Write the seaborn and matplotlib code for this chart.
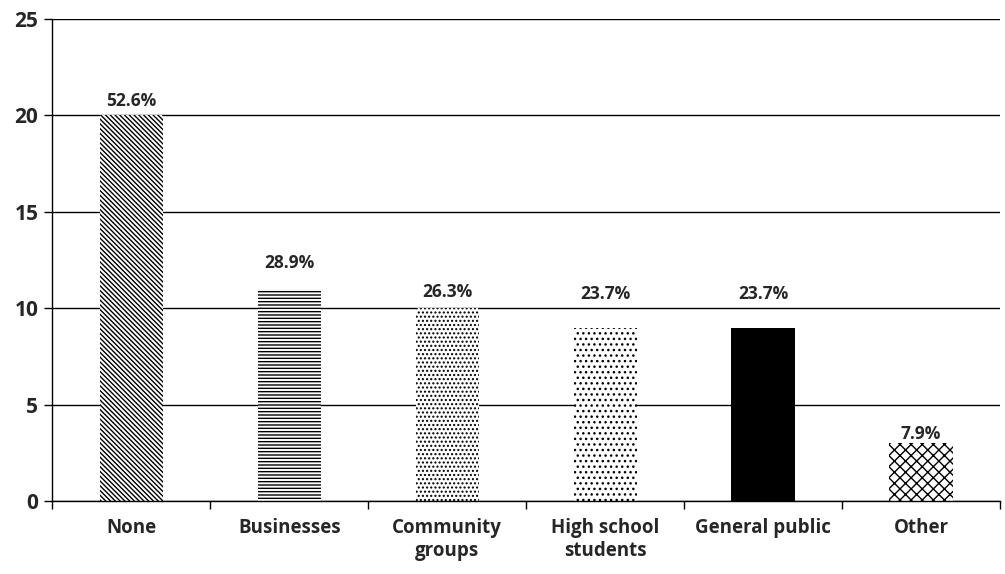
import numpy as np
import seaborn as sns
import matplotlib
matplotlib.use("Agg")
import matplotlib.pyplot as plt
from matplotlib.ticker import FixedLocator

categories = ["None", "Businesses", "Community\ngroups", "High school\nstudents", "General public", "Other"]
counts = [20, 11, 10, 9, 9, 3]
respondents = 38  # percent labels are share of respondents (multiple answers)
hatches = ["\\" * 7, "-" * 5, "." * 4, "." * 3, "", "x" * 3]
fills = ["white", "white", "white", "white", "black", "white"]
# label lift above each bar in points (the original placed them by hand)
label_lift = [10, 19, 12, 24, 24, 7]

sns.set_style("white")
plt.rcParams["font.family"] = ["Open Sans", "DejaVu Sans"]
plt.rcParams["hatch.linewidth"] = 1.0

fig = plt.figure(figsize=(10.05, 5.74), dpi=100)
ax = fig.add_axes([0.052, 0.127, 0.943, 0.840])

sns.barplot(x=categories, y=counts, color="white", width=0.4, ax=ax,
            edgecolor="black", linewidth=0, saturation=1)

for bar, h, fc in zip(ax.patches, hatches, fills):
    bar.set_facecolor(fc)
    bar.set_hatch(h)
    bar.set_edgecolor("black")
    bar.set_linewidth(0)

for i, (c, lift) in enumerate(zip(counts, label_lift)):
    ax.annotate(f"{c / respondents * 100:.1f}%", (i, c), xytext=(0, lift), textcoords="offset points",
                ha="center", va="center", fontsize=12.5, fontweight="bold", zorder=5)

ax.set_ylim(0, 25)
ax.set_xlim(-0.5, len(categories) - 0.5)
ax.set_yticks(range(0, 26, 5))
ax.yaxis.grid(True, color="black", linewidth=1)
ax.set_axisbelow(True)

for s in ["top", "right"]:
    ax.spines[s].set_visible(False)
for s in ["left", "bottom"]:
    ax.spines[s].set_color("black")
    ax.spines[s].set_linewidth(1)

ax.xaxis.set_minor_locator(FixedLocator(np.arange(-0.5, len(categories), 1)))
ax.tick_params(axis="x", which="major", length=0, pad=12, labelsize=13.5)
ax.tick_params(axis="x", which="minor", length=6, width=1, color="black", direction="out", bottom=True)
ax.tick_params(axis="y", length=6, width=1, color="black", direction="out", left=True, labelsize=15, pad=4)
for lbl in ax.get_xticklabels() + ax.get_yticklabels():
    lbl.set_fontweight("bold")

fig.savefig("out.png", dpi=100)
